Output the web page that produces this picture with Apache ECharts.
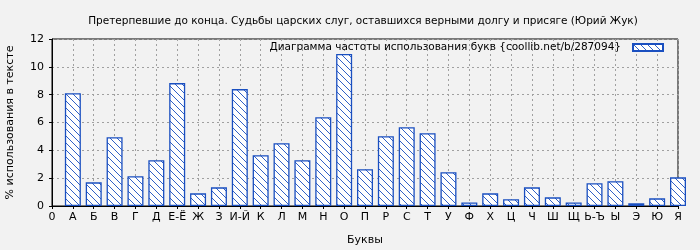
<!DOCTYPE html>
<html><head><meta charset="utf-8">
<script src="https://cdn.jsdelivr.net/npm/echarts@6/dist/echarts.min.js"></script>
<style>html,body{margin:0;padding:0;background:#f2f2f2;}#c{width:700px;height:250px;}</style>
</head><body><div id="c"></div>
<script>
const tickLabels = ['0','А','Б','В','Г','Д','Е-Ё','Ж','З','И-Й','К','Л','М','Н','О','П','Р','С','Т','У','Ф','Х','Ц','Ч','Ш','Щ','Ь-Ъ','Ы','Э','Ю','Я'];
const categories = tickLabels.slice(1);
const values = [8.11,1.70,4.94,2.14,3.29,8.83,0.91,1.34,8.40,3.65,4.51,3.29,6.38,10.92,2.64,5.02,5.66,5.23,2.42,0.26,0.91,0.48,1.34,0.62,0.26,1.63,1.78,0.19,0.55,2.06];
const seriesName = 'Диаграмма частоты использования букв {coollib.net/b/287094}';
const titleText = 'Претерпевшие до конца. Судьбы царских слуг, оставшихся верными долгу и присяге (Юрий Жук)';

const T = 7;
const pc = document.createElement('canvas');
pc.width = T; pc.height = T;
const ctx = pc.getContext('2d');
ctx.fillStyle = '#ffffff'; ctx.fillRect(0,0,T,T);
ctx.strokeStyle = '#1a4fc0'; ctx.lineWidth = 0.9;
[[0,0],[-T,0],[T,0]].forEach(([dx,dy])=>{ctx.beginPath(); ctx.moveTo(dx-1,dy-1); ctx.lineTo(dx+T+1,dy+T+1); ctx.stroke();});

const data = categories.map((c,i)=>[i+1, values[i]]);
const font = 'DejaVu Sans';
const chart = echarts.init(document.getElementById('c'), null, {renderer:'canvas'});
chart.setOption({
  backgroundColor:'#f2f2f2',
  animation:false,
  title:{text:titleText, left:358, top:11, textAlign:'center',
    textStyle:{fontFamily:font, fontSize:10.5, fontWeight:'normal', color:'#000'}},
  legend:{right:36, top:42, padding:0, itemWidth:30, itemHeight:7, itemGap:10, align:'right', icon:'rect',
    textStyle:{fontFamily:font, fontSize:10.5, color:'#000', padding:[0,7,0,0]}, data:[seriesName]},
  grid:{left:52, right:22, top:39, bottom:44, containLabel:false, outerBoundsMode:'none',
    show:true, borderColor:'#000', borderWidth:1, backgroundColor:'transparent'},
  xAxis:{type:'value', min:0, max:30, interval:1, name:'Буквы', nameLocation:'middle', nameGap:29,
    nameTextStyle:{fontFamily:font, fontSize:11, color:'#000'},
    axisLine:{lineStyle:{color:'#000'}}, axisTick:{show:true, length:3, lineStyle:{color:'#000'}},
    axisLabel:{fontFamily:font, fontSize:11, color:'#000', margin:6, formatter:v=>tickLabels[v]||''},
    splitLine:{show:true, lineStyle:{color:'#a0a0a0', type:[2,3]}}},
  yAxis:{type:'value', min:0, max:12, interval:2, name:'% использования в тексте', nameLocation:'middle', nameGap:36,
    nameTextStyle:{fontFamily:font, fontSize:11, color:'#000'},
    axisLine:{show:true, lineStyle:{color:'#000'}}, axisTick:{show:true, length:3, lineStyle:{color:'#000'}},
    axisLabel:{fontFamily:font, fontSize:11, color:'#000', margin:8},
    splitLine:{show:true, lineStyle:{color:'#a0a0a0', type:[2,3]}}},
  series:[{name:seriesName, type:'bar', data:data, barWidth:16, clip:true,
    itemStyle:{color:{image:pc, repeat:'repeat'}, borderColor:'#1a4fc0', borderWidth:1.3}}]
});
</script></body></html>
